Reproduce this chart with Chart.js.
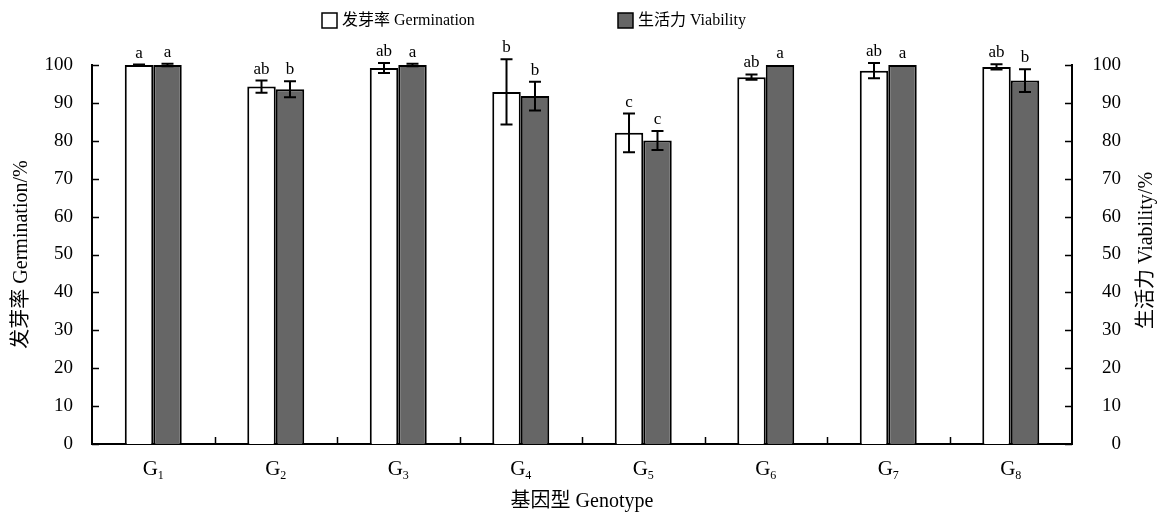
<!DOCTYPE html>
<html>
<head>
<meta charset="utf-8">
<script src="https://cdn.jsdelivr.net/npm/chart.js@4.4.1/dist/chart.umd.min.js"></script>
<style>
  html, body { margin:0; padding:0; background:#fff; }
  #wrap { width:1161px; height:513px; }
</style>
</head>
<body>
<div id="wrap"><canvas id="chart" width="1161" height="513"></canvas></div>
<script>
// data
const categories = ['G1','G2','G3','G4','G5','G6','G7','G8'];
const germination = [100, 94.3, 99.2, 92.9, 82.1, 96.8, 98.5, 99.5];
const germinationErr = [0.1, 1.6, 1.3, 8.6, 5.1, 0.7, 2.0, 0.7];
const viability = [100, 93.6, 100, 91.8, 80.1, 100, 100, 95.9];
const viabilityErr = [0.3, 2.1, 0.3, 3.8, 2.5, 0, 0, 3.0];
const germinationLetters = ['a','ab','ab','b','c','ab','ab','ab'];
const viabilityLetters = ['a','b','a','b','c','a','a','b'];
const yTicks = [0,10,20,30,40,50,60,70,80,90,100];

const SERIF = '"Liberation Serif", "Noto Sans CJK SC", serif';
const W = 1161, H = 513;
const PLOT = { left:92, right:1072, top:65, bottom:444 };
const RIGHT_LABEL_EDGE = 1121;

const extras = {
  id:'extras',
  afterDatasetsDraw(chart) {
    const ctx = chart.ctx, y = chart.scales.y, x = chart.scales.x, a = chart.chartArea;
    ctx.save();
    ctx.strokeStyle = '#000';
    ctx.lineWidth = 2;
    // error bars + letters
    [[germinationErr, germinationLetters, germination], [viabilityErr, viabilityLetters, viability]].forEach((set, di) => {
      const meta = chart.getDatasetMeta(di);
      meta.data.forEach((bar, i) => {
        const v = set[2][i], e = set[0][i];
        const top = y.getPixelForValue(v + e), bot = y.getPixelForValue(v - e);
        if (e > 0) {
          ctx.beginPath();
          ctx.moveTo(bar.x, top); ctx.lineTo(bar.x, bot);
          ctx.moveTo(bar.x - 6, top); ctx.lineTo(bar.x + 6, top);
          ctx.moveTo(bar.x - 6, bot); ctx.lineTo(bar.x + 6, bot);
          ctx.stroke();
        }
        ctx.fillStyle = '#000';
        ctx.font = '17px ' + SERIF;
        ctx.textAlign = 'center';
        ctx.textBaseline = 'alphabetic';
        ctx.fillText(set[1][i], bar.x, top - 7);
      });
    });
    // inward tick marks
    ctx.lineWidth = 1.5;
    ctx.beginPath();
    yTicks.forEach(t => {
      const py = Math.round(y.getPixelForValue(t)) + 0.5;
      ctx.moveTo(a.left, py); ctx.lineTo(a.left + 7, py);
      ctx.moveTo(a.right, py); ctx.lineTo(a.right - 7, py);
    });
    for (let i = 1; i < categories.length; i++) {
      const px = Math.round((x.getPixelForValue(i - 1) + x.getPixelForValue(i)) / 2) + 0.5;
      ctx.moveTo(px, a.bottom); ctx.lineTo(px, a.bottom - 7);
    }
    ctx.stroke();
    // category labels with subscripts
    ctx.fillStyle = '#000';
    ctx.textAlign = 'left';
    ctx.textBaseline = 'alphabetic';
    categories.forEach((c, i) => {
      const px = x.getPixelForValue(i);
      const g = c.slice(0, 1), sub = c.slice(1);
      ctx.font = '21px ' + SERIF;
      const gw = ctx.measureText(g).width;
      ctx.font = '12px ' + SERIF;
      const sw = ctx.measureText(sub).width;
      const x0 = px - (gw + sw) / 2;
      ctx.font = '21px ' + SERIF;
      ctx.fillText(g, x0, 475);
      ctx.font = '12px ' + SERIF;
      ctx.fillText(sub, x0 + gw, 479);
    });
    // axis titles
    ctx.font = '20px ' + SERIF;
    ctx.textAlign = 'center';
    ctx.fillText('基因型 Genotype', (a.left + a.right) / 2, 507);
    ctx.textBaseline = 'middle';
    const midY = (a.top + a.bottom) / 2;
    ctx.save();
    ctx.translate(22, midY); ctx.rotate(-Math.PI / 2);
    ctx.fillText('发芽率 Germination/%', 0, 0);
    ctx.restore();
    ctx.save();
    ctx.translate(1147, midY - 4); ctx.rotate(-Math.PI / 2);
    ctx.fillText('生活力 Viability/%', 0, 0);
    ctx.restore();
    // legend
    ctx.font = '16px ' + SERIF;
    ctx.textAlign = 'left';
    ctx.lineWidth = 1.5;
    [[322, '#ffffff', '发芽率 Germination'], [618, '#666666', '生活力 Viability']].forEach(l => {
      ctx.fillStyle = l[1];
      ctx.fillRect(l[0], 13, 15, 15);
      ctx.strokeRect(l[0], 13, 15, 15);
      ctx.fillStyle = '#000';
      ctx.fillText(l[2], l[0] + 20, 21);
    });
    ctx.restore();
  }
};

const yScale = (pos, width) => ({
  type:'linear', position:pos, min:0, max:100,
  afterFit: s => { s.width = width; },
  afterBuildTicks: s => { s.ticks = yTicks.map(v => ({ value:v })); },
  grid:{ display:false, drawTicks:false },
  border:{ display:true, color:'#000', width:2 },
  ticks:{ color:'#000', font:{ family:SERIF, size:19 }, padding:19, crossAlign: pos === 'right' ? 'far' : 'near' }
});

new Chart(document.getElementById('chart').getContext('2d'), {
  type:'bar',
  data:{
    labels:categories,
    datasets:[
      { label:'发芽率 Germination', data:germination, backgroundColor:'#ffffff', borderColor:'#000', borderWidth:2, yAxisID:'y' },
      { label:'生活力 Viability', data:viability, backgroundColor:'#666666', borderColor:'#000', borderWidth:2, yAxisID:'y' }
    ]
  },
  options:{
    responsive:false, animation:false,
    categoryPercentage:0.465, barPercentage:1,
    layout:{ padding:{ top:PLOT.top, left:0, right:W - RIGHT_LABEL_EDGE, bottom:0 } },
    plugins:{ legend:{ display:false }, tooltip:{ enabled:false } },
    scales:{
      x:{
        type:'category', offset:true,
        afterFit: s => { s.height = H - PLOT.bottom; },
        grid:{ display:false, drawTicks:false },
        border:{ display:true, color:'#000', width:2 },
        ticks:{ display:false }
      },
      y:yScale('left', PLOT.left),
      y2:yScale('right', RIGHT_LABEL_EDGE - PLOT.right)
    }
  },
  plugins:[extras]
});
</script>
</body>
</html>
